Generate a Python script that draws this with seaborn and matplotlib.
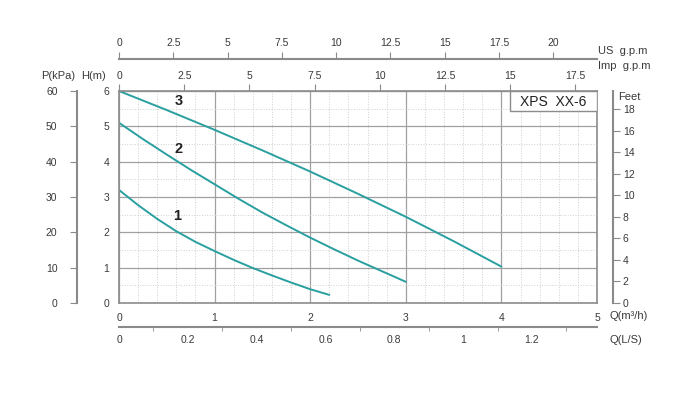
import pandas as pd
import matplotlib
matplotlib.use("Agg")
import matplotlib.pyplot as plt
from matplotlib.ticker import MultipleLocator
from matplotlib.patches import Rectangle
import seaborn as sns

# -------------------------------
# Data: Q (m3/h) vs H (m)
# -------------------------------
q1 = [0, 0.2, 0.4, 0.6, 0.8, 1.0, 1.2, 1.4, 1.6, 1.8, 2.0, 2.2]
h1 = [3.2, 2.77, 2.38, 2.03, 1.73, 1.47, 1.22, 0.99, 0.78, 0.58, 0.39, 0.23]

q2 = [0, 0.25, 0.5, 0.75, 1.0, 1.25, 1.5, 1.75, 2.0, 2.25, 2.5, 2.75, 3.0]
h2 = [5.1, 4.64, 4.2, 3.77, 3.36, 2.95, 2.56, 2.2, 1.85, 1.52, 1.2, 0.9, 0.6]

q3 = [0, 0.5, 1.0, 1.5, 2.0, 2.5, 3.0, 3.5, 4.0]
h3 = [6.0, 5.46, 4.9, 4.32, 3.72, 3.09, 2.44, 1.75, 1.03]

curve_names = ["1", "2", "3"]
label_q = [0.61, 0.62, 0.63]
label_h = [2.46, 4.36, 5.72]

q_ticks = [0, 1, 2, 3, 4, 5]
h_ticks = [0, 1, 2, 3, 4, 5, 6]
p_ticks = [0, 10, 20, 30, 40, 50, 60]
feet_ticks = [0, 2, 4, 6, 8, 10, 12, 14, 16, 18]
ls_ticks = [0, 0.2, 0.4, 0.6, 0.8, 1.0, 1.2]
us_ticks = [0, 2.5, 5, 7.5, 10, 12.5, 15, 17.5, 20]
imp_ticks = [0, 2.5, 5, 7.5, 10, 12.5, 15, 17.5]

model_name = "XPS  XX-6"

# unit conversions
US_GPM = 4.403
IMP_GPM = 3.666
LPS = 1 / 3.6
FEET = 3.2808
KPA = 10.0

df = pd.concat([
    pd.DataFrame({"Q": q1, "H": h1, "curve": "1"}),
    pd.DataFrame({"Q": q2, "H": h2, "curve": "2"}),
    pd.DataFrame({"Q": q3, "H": h3, "curve": "3"}),
])

sns.set_style("white")
plt.rcParams["font.family"] = ["Liberation Sans", "DejaVu Sans"]

TXT = "#3a3a3a"
AX = "#8a8a8a"
TEAL = "#2a9fa0"
FS = 7.5

fig = plt.figure(figsize=(7, 4.07), dpi=100)
ax = fig.add_axes([119 / 700, 104 / 407, 478 / 700, 212 / 407])

sns.lineplot(data=df, x="Q", y="H", units="curve", estimator=None,
             color=TEAL, linewidth=1.4, sort=False, ax=ax, legend=False)

ax.set_xlim(0, 5)
ax.set_ylim(0, 6)
ax.set_xlabel("")
ax.set_ylabel("")

# grid
ax.set_xticks(q_ticks)
ax.set_yticks(h_ticks)
ax.xaxis.set_minor_locator(MultipleLocator(0.2))
ax.yaxis.set_minor_locator(MultipleLocator(0.5))
ax.grid(which="major", color="#a0a0a0", linewidth=0.9)
ax.grid(which="minor", color="#cfcfcf", linewidth=0.7, linestyle=":")
ax.set_axisbelow(True)

for s in ax.spines.values():
    s.set_color("#8c8c8c")
    s.set_linewidth(1.2)

ax.tick_params(axis="x", which="major", direction="out", length=3, pad=4,
               labelsize=FS, colors=AX, labelcolor=TXT, top=False)
ax.tick_params(axis="x", which="minor", length=0)
ax.tick_params(axis="y", which="major", direction="out", length=4, pad=3,
               labelsize=FS, colors=AX, labelcolor=TXT)
ax.tick_params(axis="y", which="minor", length=0)

# curve numbers
for name, lq, lh in zip(curve_names, label_q, label_h):
    ax.text(lq, lh, name, fontsize=10.5, fontweight="bold", color="#222222",
            ha="center", va="center")

# model box
ax.add_patch(Rectangle((4.09, 5.44), 0.91, 0.56, facecolor="white",
                       edgecolor="#8c8c8c", linewidth=1.0, zorder=3))
ax.text(4.545, 5.70, model_name, fontsize=10, color="#222222",
        ha="center", va="center", zorder=4)

# top: Imp g.p.m
imp = ax.secondary_xaxis("top", functions=(lambda q: q * IMP_GPM,
                                           lambda g: g / IMP_GPM))
imp.set_xticks(imp_ticks)
imp.set_xticklabels([f"{t:g}" for t in imp_ticks])
imp.tick_params(direction="out", length=5, pad=2, labelsize=FS,
                colors=AX, labelcolor=TXT)
imp.spines["top"].set_color("#8c8c8c")

# top: US g.p.m
us = ax.secondary_xaxis(1.151, functions=(lambda q: q * US_GPM,
                                          lambda g: g / US_GPM))
us.set_xticks(us_ticks)
us.set_xticklabels([f"{t:g}" for t in us_ticks])
us.tick_params(direction="out", length=5, pad=3, labelsize=FS,
               colors=AX, labelcolor=TXT)
us.spines["top"].set_color(AX)
us.spines["top"].set_linewidth(1.5)

# bottom: L/S
ls = ax.secondary_xaxis(-0.113, functions=(lambda q: q * LPS,
                                           lambda l: l / LPS))
ls.set_xticks(ls_ticks)
ls.set_xticklabels([f"{t:g}" for t in ls_ticks])
ls.set_xticks([0.1, 0.3, 0.5, 0.7, 0.9, 1.1, 1.3], minor=True)
ls.tick_params(which="major", direction="out", length=0, pad=6, labelsize=FS,
               colors=AX, labelcolor=TXT)
ls.tick_params(which="minor", direction="out", length=3, colors=AX)
ls.spines["bottom"].set_color(AX)
ls.spines["bottom"].set_linewidth(1.5)

# left: P(kPa)
pk = ax.secondary_yaxis(-0.0879, functions=(lambda h: h * KPA,
                                            lambda p: p / KPA))
pk.set_yticks(p_ticks)
pk.tick_params(direction="out", length=5, pad=9, labelsize=FS,
               colors=AX, labelcolor=TXT)
pk.spines["left"].set_color(AX)
pk.spines["left"].set_linewidth(1.5)

# right: Feet
ft = ax.secondary_yaxis(1.0335, functions=(lambda h: h * FEET,
                                           lambda f: f / FEET))
ft.set_yticks(feet_ticks)
ft.tick_params(direction="out", length=5, pad=2, labelsize=FS,
               colors=AX, labelcolor=TXT)
ft.spines["right"].set_color(AX)
ft.spines["right"].set_linewidth(1.5)

# unit labels
def ftext(x, y, s, ha="center"):
    fig.text(x / 700, 1 - y / 407, s, fontsize=8, color=TXT,
             ha=ha, va="center")

ftext(58, 76, "P(kPa)")
ftext(93, 76, "H(m)")
ftext(618, 97, "Feet", ha="left")
ftext(598, 51, "US  g.p.m", ha="left")
ftext(598, 66, "Imp  g.p.m", ha="left")
ftext(609, 316, "Q(m³/h)", ha="left")
ftext(609, 340, "Q(L/S)", ha="left")

fig.savefig("out.png", dpi=100, facecolor="white")
